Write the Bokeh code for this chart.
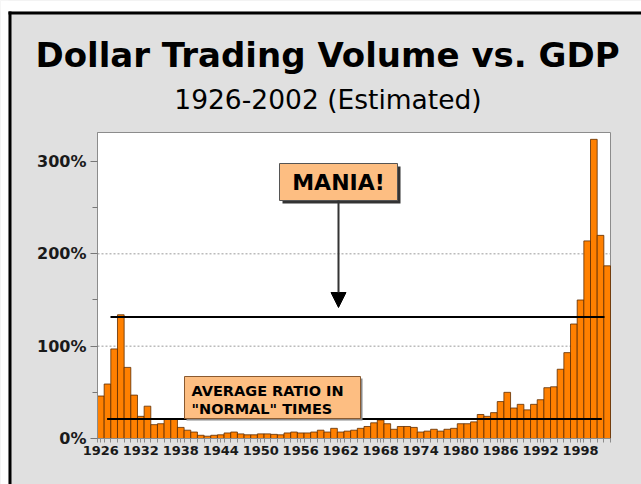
from bokeh.plotting import figure
from bokeh.models import (Range1d, FixedTicker, PrintfTickFormatter, Arrow,
                          NormalHead, LinearAxis)
from bokeh.core.properties import value
from bokeh.embed import file_html
from bokeh.resources import INLINE

# ---------------- data ----------------
years = list(range(1926, 2003))
ratio_pct = [
    46, 59, 97, 134, 77, 47, 24, 35, 15, 16,      # 1926-1935
    21, 21, 12, 9, 7, 3.5, 2.5, 3.5, 4, 6,        # 1936-1945
    7, 5, 4, 4, 5, 5, 4.5, 4, 6, 7,               # 1946-1955
    6, 6, 7, 9, 7, 11, 7, 8, 9, 11,               # 1956-1965
    13, 17, 20, 16, 10, 13, 13, 12, 7, 8,         # 1966-1975
    10, 8, 10, 11, 16, 16, 18, 26, 24, 28,        # 1976-1985
    40, 50, 33, 37, 31, 37, 42, 55, 56, 75,       # 1986-1995
    93, 124, 150, 214, 324, 220, 187,             # 1996-2002
]
x_tick_years = list(range(1926, 1999, 6))
y_ticks = [0, 100, 200, 300]
y_minor_ticks = [50, 150, 250]
grid_levels = [100, 200]

# reference lines: "mania" level and "normal" average ratio
ref_y = [131.6, 21.1]
ref_x0 = [1927.45, 1926.94]
ref_x1 = [2001.6, 2001.2]

title_text = "Dollar Trading Volume vs. GDP"
subtitle_text = "1926-2002 (Estimated)"
mania_text = "MANIA!"
normal_lines = ["AVERAGE RATIO IN", "\"NORMAL\" TIMES"]

# ---------------- layout constants (page pixels) ----------------
W, H = 641, 484
FL, FR, FT, FB = 97, 610, 132, 438           # plot area in page pixels
X0, X1, Y0, Y1 = 1925.5, 2002.5, 0.0, 331.4  # data extent of plot area
BG = "#e0e0e0"


def dx(px):
    return X0 + (px - FL) * (X1 - X0) / (FR - FL)


def dy(py):
    return Y0 + (FB - py) * (Y1 - Y0) / (FB - FT)


# the frame covers the whole canvas; the plot area is drawn inside it
p = figure(width=W, height=H, output_backend="svg", toolbar_location=None,
           title=None, x_axis_location=None, y_axis_location=None,
           x_range=Range1d(dx(0), dx(W)), y_range=Range1d(dy(H), dy(0)),
           min_border=0, min_border_left=0, min_border_right=0,
           min_border_top=0, min_border_bottom=0)
p.background_fill_color = BG
p.border_fill_color = BG
p.outline_line_color = None
p.grid.visible = False

# page margin (white) and black border on left and top
p.quad(left=[dx(0), dx(0), dx(8), dx(8)], right=[dx(W), dx(8), dx(W), dx(11)],
       top=[dy(0), dy(0), dy(11), dy(11)], bottom=[dy(11), dy(H), dy(14), dy(H)],
       fill_color=["white", "white", "black", "black"], line_color=None,
       level="image")

# white plot area with grey outline
p.quad(left=[X0], right=[X1], bottom=[Y0], top=[Y1], fill_color="white",
       line_color="#8c8c8c", line_width=1, level="image")

# dashed grid lines inside the plot area
p.segment(x0=[X0] * len(grid_levels), x1=[X1] * len(grid_levels),
          y0=grid_levels, y1=grid_levels, line_color="#9a9a9a",
          line_dash="2 2", line_width=1, level="underlay")

# bars
p.vbar(x=years, top=ratio_pct, width=1.0, bottom=0,
       fill_color="#ff8000", line_color="#5e2c00", line_width=0.8)

# horizontal reference lines (over the bars)
p.segment(x0=ref_x0, y0=ref_y, x1=ref_x1, y1=ref_y, line_color="black",
          line_width=2)

# axes, fixed at the plot-area edges
yax = LinearAxis(fixed_location=X0, bounds=(Y0, Y1),
                 ticker=FixedTicker(ticks=y_ticks, minor_ticks=y_minor_ticks),
                 formatter=PrintfTickFormatter(format="%d%%"))
yax.axis_line_color = "#8c8c8c"
yax.major_tick_out = 7
yax.major_tick_in = 0
yax.minor_tick_out = 5
yax.minor_tick_in = 0
yax.major_tick_line_color = "#777777"
yax.minor_tick_line_color = "#777777"
yax.major_label_standoff = 4
yax.major_label_text_font = "DejaVu Sans"
yax.major_label_text_font_style = "bold"
yax.major_label_text_font_size = "16px"
yax.major_label_text_color = "#1a1a1a"
p.add_layout(yax, "left")

xax = LinearAxis(fixed_location=Y0, bounds=(X0, X1),
                 ticker=FixedTicker(ticks=x_tick_years,
                                    minor_ticks=[y - 0.5 for y in years] + [years[-1] + 0.5]))
xax.axis_line_color = "#8c8c8c"
xax.major_tick_out = 4
xax.major_tick_in = 0
xax.minor_tick_out = 4
xax.minor_tick_in = 0
xax.major_tick_line_color = "#8c8c8c"
xax.minor_tick_line_color = "#8c8c8c"
xax.major_label_standoff = 3
xax.major_label_text_font = "DejaVu Sans"
xax.major_label_text_font_style = "bold"
xax.major_label_text_font_size = "13px"
xax.major_label_text_color = "#1a1a1a"
p.add_layout(xax, "below")

# titles
p.text(x=[dx(327)], y=[dy(54)], text=[title_text], text_font=value("DejaVu Sans"),
       text_font_style="bold", text_font_size="34px", text_align="center",
       text_baseline="middle", text_color="black")
p.text(x=[dx(327.5)], y=[dy(99)], text=[subtitle_text],
       text_font=value("DejaVu Sans"), text_font_size="26.5px",
       text_align="center", text_baseline="middle", text_color="black")

# MANIA! box with shadow
mx0, mx1, my0, my1 = dx(279), dx(397), dy(200), dy(163)
sx, sy = dx(282) - dx(279), dy(166) - dy(163)
p.quad(left=[mx0 + sx], right=[mx1 + sx], bottom=[my0 + sy], top=[my1 + sy],
       fill_color="#333333", line_color=None)
p.quad(left=[mx0], right=[mx1], bottom=[my0], top=[my1],
       fill_color="#fdbe82", line_color="#555555", line_width=1)
p.text(x=[(mx0 + mx1) / 2], y=[(my0 + my1) / 2], text=[mania_text],
       text_font=value("DejaVu Sans"), text_font_style="bold",
       text_font_size="22px", text_align="center", text_baseline="middle",
       text_color="black")

p.add_layout(Arrow(end=NormalHead(size=15, fill_color="black", line_color="black"),
                   x_start=dx(338), y_start=my0, x_end=dx(338), y_end=dy(307),
                   line_color="#333333", line_width=2))

# AVERAGE RATIO box with shadow
ax0, ax1, ay0, ay1 = dx(184), dx(360), dy(418), dy(376)
sx2, sy2 = dx(186) - dx(184), dy(420) - dy(418)
p.quad(left=[ax0 + sx2], right=[ax1 + sx2], bottom=[ay0 + sy2], top=[ay1 + sy2],
       fill_color="#8a8a8a", line_color=None)
p.quad(left=[ax0], right=[ax1], bottom=[ay0], top=[ay1],
       fill_color="#fdbe82", line_color="#8a5a30", line_width=1)
p.text(x=[dx(191), dx(191)], y=[dy(390.5), dy(408.5)], text=normal_lines,
       text_font=value("DejaVu Sans"), text_font_style="bold",
       text_font_size="14.5px", text_align="left", text_baseline="middle",
       text_color="black")

open("out.html", "w").write(file_html(p, INLINE))
